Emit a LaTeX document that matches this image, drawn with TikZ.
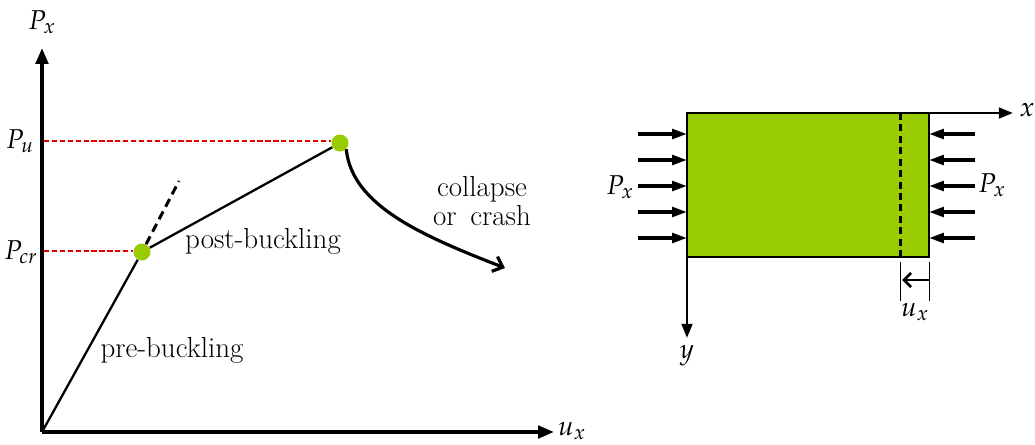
\documentclass[tikz,border=0pt]{standalone}
\usepackage{mathpazo}
\usetikzlibrary{arrows.meta}
\definecolor{plategreen}{RGB}{153,204,0}
\definecolor{refred}{RGB}{230,0,0}
\begin{document}
\begin{tikzpicture}[x=0.02cm,y=-0.02cm,
  lbl/.style={font=\fontsize{16.5}{19}\selectfont, inner sep=0},
  mlbl/.style={font=\fontsize{15.5}{18}\selectfont, inner sep=0},
  axisline/.style={line width=2.1pt,-{Triangle[length=9pt,width=7pt]}},
  curve/.style={line width=1.3pt},
  guide/.style={refred,line width=0.8pt,dash pattern=on 3pt off 1.5pt},
  gdot/.style={circle,fill=plategreen,inner sep=0,minimum size=0.34cm},
  force/.style={line width=1.9pt,-{Triangle[length=8.5pt,width=5.5pt]}},
  dimline/.style={line width=0.4pt}]
\useasboundingbox (0,0) rectangle (1035,444);
% ---------- left plot ----------
\coordinate (O) at (42,432);
\coordinate (Ytip) at (42,48);
\coordinate (Xtip) at (554,432);
\draw[axisline] (O) -- (Ytip);
\draw[axisline] (O) -- (Xtip);
\node[mlbl] (Pxlab) at (42,22) {$P_x$};
\node[mlbl] (uxlab) at (572,431) {$u_x$};
\node[mlbl] (Pulab) at (20,141) {$P_u$};
\node[mlbl] (Pcrlab) at (21,252) {$P_{cr}$};
\coordinate (Pu0) at (44,141);
\coordinate (Pcr0) at (44,251);
\node[gdot] (D1) at (142,252) {};
\node[gdot] (D2) at (340,143) {};
\draw[guide] (Pu0) -- (D2.west |- Pu0);
\draw[guide] (Pcr0) -- (D1.west |- Pcr0);
\draw[curve] (O) -- (D1);
\coordinate (Dash) at (179,181);
\draw[line width=1.7pt,dash pattern=on 5pt off 3pt] (D1) -- (Dash);
\draw[curve] (D1) -- (D2);
\coordinate (Cend) at (505,268);
\draw[line width=1.8pt,-{Straight Barb[length=5pt,width=9pt]}] (D2.south east) .. controls (352,205) and (420,235) .. (Cend);
\node[lbl] (pre) at (172,350) {pre-buckling};
\node[lbl] (post) at (263,241) {post-buckling};
\node[lbl,align=center] (coll) at (482,201) {collapse\\[-3pt] or\, crash};
% ---------- right plate ----------
\coordinate (A) at (687,113);
\coordinate (B) at (929,257);
\fill[plategreen] (A) rectangle (B);
\draw[line width=1.2pt] (A) rectangle (B);
\draw[line width=1.7pt,dash pattern=on 4pt off 2.5pt] (900,113) -- (900,257);
\coordinate (xT) at (1013,113);
\coordinate (yT) at (687,338);
\draw[line width=1.6pt,-{Triangle[length=8pt,width=6pt]}] (A) -- (xT);
\draw[line width=1.6pt,-{Triangle[length=8pt,width=6pt]}] (A) -- (yT);
\node[mlbl] (xlab) at (1027,110) {$x$};
\node[mlbl] (ylab) at (687,356) {$y$};
\foreach \yy [count=\i] in {134,160,186,212,238}{
  \coordinate (L\i) at (638,\yy);
  \coordinate (LE\i) at (687,\yy);
  \coordinate (R\i) at (975,\yy);
  \coordinate (RE\i) at (929,\yy);
  \draw[force] (L\i) -- (LE\i);
  \draw[force] (R\i) -- (RE\i);
}
\node[mlbl] (PxL) at (620,187) {$P_x$};
\node[mlbl] (PxR) at (992,185) {$P_x$};
\coordinate (d1a) at (900,262); \coordinate (d1b) at (900,301);
\coordinate (d2a) at (929,262); \coordinate (d2b) at (929,301);
\draw[dimline] (d1a) -- (d1b);
\draw[dimline] (d2a) -- (d2b);
\coordinate (ua) at (930,280); \coordinate (ub) at (902,280);
\draw[line width=1.6pt,-{Straight Barb[length=4pt,width=8pt]}] (ua) -- (ub);
\node[mlbl] (uxR) at (915,312) {$u_x$};
\end{tikzpicture}
\end{document}
